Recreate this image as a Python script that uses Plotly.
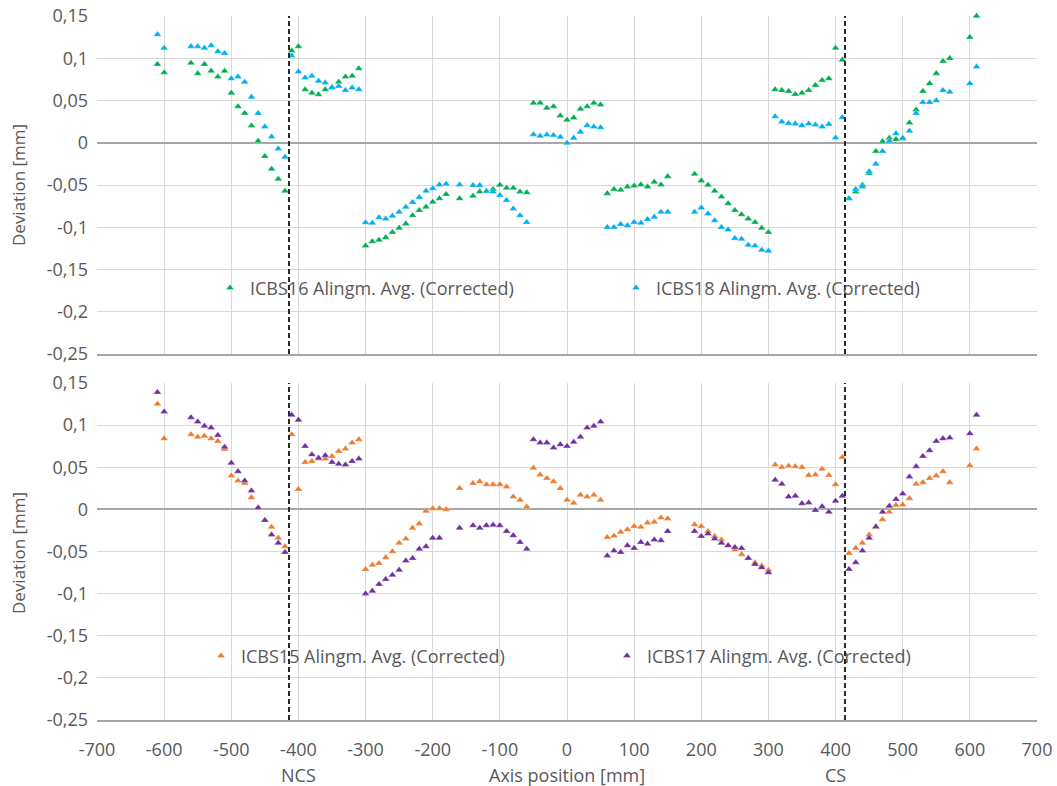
import plotly.graph_objects as go

# ---------------- data ----------------
x_pos = [-610, -600,
         -560, -550, -540, -530, -520, -510, -500, -490, -480, -470, -460, -450, -440, -430, -420,
         -410, -400, -390, -380, -370, -360, -350, -340, -330, -320, -310,
         -300, -290, -280, -270, -260, -250, -240, -230, -220, -210, -200, -190, -180,
         -160, -140, -130, -120, -110, -100, -90, -80, -70, -60,
         -50, -40, -30, -20, -10, 0, 10, 20, 30, 40, 50,
         60, 70, 80, 90, 100, 110, 120, 130, 140, 150,
         190, 200, 210, 220, 230, 240, 250, 260, 270, 280, 290, 300,
         310, 320, 330, 340, 350, 360, 370, 380, 390, 400, 410,
         420, 430, 440, 450, 460, 470, 480, 490, 500, 510, 520, 530, 540, 550, 560, 570,
         600, 610]

icbs16 = [0.093, 0.083,
          0.0945, 0.082, 0.093, 0.085, 0.078, 0.085, 0.059, 0.043, 0.035, 0.020, 0.002, -0.016, -0.031, -0.043, -0.057,
          0.109, 0.114, 0.063, 0.059, 0.057, 0.063, 0.066, 0.072, 0.078, 0.079, 0.088,
          -0.122, -0.117, -0.115, -0.112, -0.106, -0.101, -0.096, -0.086, -0.080, -0.076, -0.070, -0.066, -0.061,
          -0.066, -0.063, -0.058, -0.0575, -0.055, -0.050, -0.0535, -0.0535, -0.058, -0.059,
          0.047, 0.047, 0.041, 0.043, 0.032, 0.027, 0.0295, 0.040, 0.043, 0.047, 0.045,
          -0.060, -0.055, -0.056, -0.052, -0.051, -0.0496, -0.052, -0.0465, -0.0496, -0.040,
          -0.037, -0.045, -0.050, -0.057, -0.064, -0.072, -0.080, -0.085, -0.090, -0.094, -0.101, -0.106,
          0.063, 0.062, 0.061, 0.0575, 0.059, 0.062, 0.068, 0.074, 0.076, 0.112, 0.098,
          -0.066, -0.058, -0.050, -0.036, -0.010, 0.0016, 0.0055, 0.004, 0.0047, 0.0236, 0.039, 0.061, 0.070, 0.082, 0.0965, 0.100,
          0.125, 0.150]

icbs18 = [0.128, 0.112,
          0.114, 0.114, 0.112, 0.115, 0.108, 0.106, 0.076, 0.078, 0.072, 0.054, 0.035, 0.019, 0.007, -0.007, -0.017,
          0.103, 0.084, 0.077, 0.079, 0.073, 0.071, 0.065, 0.067, 0.062, 0.065, 0.063,
          -0.0945, -0.095, -0.0886, -0.090, -0.0866, -0.082, -0.076, -0.0705, -0.0646, -0.057, -0.054, -0.0496, -0.0488,
          -0.0496, -0.0504, -0.0504, -0.0575, -0.058, -0.062, -0.068, -0.078, -0.086, -0.094,
          0.0098, 0.0079, 0.0094, 0.009, 0.0067, -0.0004, 0.0055, 0.0126, 0.0205, 0.0189, 0.0181,
          -0.100, -0.100, -0.0965, -0.098, -0.094, -0.095, -0.0906, -0.088, -0.082, -0.082,
          -0.082, -0.077, -0.084, -0.092, -0.100, -0.103, -0.113, -0.114, -0.121, -0.122, -0.127, -0.128,
          0.031, 0.025, 0.023, 0.0224, 0.0205, 0.0224, 0.0213, 0.019, 0.022, 0.006, 0.030,
          -0.066, -0.055, -0.052, -0.034, -0.025, -0.010, 0.002, 0.011, 0.0055, 0.014, 0.035, 0.048, 0.048, 0.050, 0.062, 0.060,
          0.070, 0.090]

icbs15 = [0.125, 0.084,
          0.089, 0.086, 0.087, 0.084, 0.081, 0.0715, 0.040, 0.034, 0.031, 0.014, 0.002, -0.013, -0.021, -0.034, -0.044,
          0.089, 0.024, 0.056, 0.057, 0.060, 0.060, 0.063, 0.069, 0.072, 0.079, 0.083,
          -0.071, -0.066, -0.064, -0.057, -0.050, -0.040, -0.035, -0.022, -0.017, -0.002, 0.001, 0.001, 0.0,
          0.025, 0.031, 0.033, 0.0295, 0.0295, 0.0295, 0.027, 0.015, 0.011, 0.003,
          0.049, 0.041, 0.037, 0.033, 0.025, 0.011, 0.0075, 0.017, 0.015, 0.017, 0.011,
          -0.033, -0.0315, -0.027, -0.024, -0.020, -0.021, -0.016, -0.015, -0.010, -0.011,
          -0.018, -0.020, -0.026, -0.032, -0.036, -0.0425, -0.048, -0.0535, -0.058, -0.063, -0.067, -0.072,
          0.053, 0.050, 0.0515, 0.051, 0.050, 0.0405, 0.041, 0.048, 0.0405, 0.0295, 0.062,
          -0.052, -0.046, -0.040, -0.030, -0.021, -0.012, -0.003, 0.005, 0.0055, 0.013, 0.030, 0.032, 0.037, 0.040, 0.045, 0.032,
          0.052, 0.072]

icbs17 = [0.139, 0.116,
          0.109, 0.104, 0.099, 0.097, 0.088, 0.074, 0.055, 0.045, 0.034, 0.022, 0.002, -0.013, -0.030, -0.040, -0.051,
          0.112, 0.106, 0.075, 0.065, 0.061, 0.064, 0.056, 0.054, 0.053, 0.057, 0.060,
          -0.100, -0.097, -0.089, -0.083, -0.078, -0.072, -0.061, -0.058, -0.047, -0.044, -0.034, -0.034, None,
          -0.022, -0.019, -0.022, -0.019, -0.0185, -0.019, -0.026, -0.031, -0.039, -0.047,
          0.083, 0.079, 0.079, 0.073, 0.077, 0.075, 0.080, 0.086, 0.097, 0.099, 0.104,
          -0.055, -0.049, -0.051, -0.043, -0.046, -0.039, -0.041, -0.036, -0.037, -0.026,
          -0.026, -0.032, -0.029, -0.035, -0.040, -0.043, -0.045, -0.046, -0.058, -0.065, -0.069, -0.075,
          0.035, 0.030, 0.015, 0.016, 0.007, 0.008, -0.001, 0.0035, -0.003, 0.010, 0.016,
          -0.071, -0.063, -0.049, -0.034, -0.0205, -0.003, 0.004, 0.012, 0.0185, 0.0386, 0.051, 0.063, 0.070, 0.081, 0.084, 0.085,
          0.090, 0.112]

x_ticks = list(range(-700, 701, 100))
x_ticktext = [str(v) for v in x_ticks]
y_ticks = [0.15, 0.1, 0.05, 0, -0.05, -0.1, -0.15, -0.2, -0.25]
y_ticktext = ["0,15", "0,1", "0,05", "0", "-0,05", "-0,1", "-0,15", "-0,2", "-0,25"]
boundary_x = [-414, 414]
section_labels = [(-400, "NCS"), (400, "CS")]
x_title = "Axis position [mm]"
y_title = "Deviation [mm]"

# ---------------- style ----------------
FONT = "Open Sans, Liberation Sans, sans-serif"
FS = 18
TXT = "#595959"
GRID = "#d9d9d9"
AXL = "#a6a6a6"
W, H = 1057, 786
L, R, T, B = 97, 20, 16, 66
PH = H - T - B

fig = go.Figure()

def add(name, y, color, xa, ya, legend):
    fig.add_trace(go.Scatter(
        x=x_pos, y=y, mode="markers", name=name, cliponaxis=False,
        marker=dict(symbol="triangle-up", size=7, color=color,
                    line=dict(color="rgba(255,255,255,0.6)", width=0.5)),
        xaxis=xa, yaxis=ya, legend=legend))

add("ICBS16 Alingm. Avg. (Corrected)", icbs16, "#00B050", "x", "y", "legend")
add("ICBS18 Alingm. Avg. (Corrected)", icbs18, "#00B0F0", "x", "y", "legend")
add("ICBS15 Alingm. Avg. (Corrected)", icbs15, "#ED7D31", "x2", "y2", "legend2")
add("ICBS17 Alingm. Avg. (Corrected)", icbs17, "#7030A0", "x2", "y2", "legend2")

def py(pix):
    return (H - B - pix) / PH

top_dom = [py(354), 1.0]
bot_dom = [0.0, py(383)]

xcommon = dict(range=[-700, 700], tickvals=x_ticks, ticktext=x_ticktext,
               showgrid=True, gridcolor=GRID, gridwidth=1, zeroline=False,
               showline=True, linecolor=AXL, linewidth=2, ticks="", automargin=False,
               tickfont=dict(family=FONT, size=FS, color=TXT))
ycommon = dict(range=[-0.25, 0.15], tickvals=y_ticks, ticktext=y_ticktext,
               showgrid=True, gridcolor=GRID, gridwidth=1,
               zeroline=True, zerolinecolor=AXL, zerolinewidth=2,
               showline=False, ticks="", automargin=False, ticklabelstandoff=8,
               tickfont=dict(family=FONT, size=FS, color=TXT))

fig.update_layout(
    xaxis=dict(**xcommon, domain=[0, 1], anchor="y", showticklabels=False),
    yaxis=dict(**ycommon, domain=top_dom, anchor="x"),
    xaxis2=dict(**xcommon, domain=[0, 1], anchor="y2", showticklabels=True, ticklabelstandoff=12),
    yaxis2=dict(**ycommon, domain=bot_dom, anchor="x2"),
    width=W, height=H,
    margin=dict(l=L, r=R, t=T, b=B, autoexpand=False),
    plot_bgcolor="white", paper_bgcolor="white",
    font=dict(family=FONT, color=TXT),
    legend=dict(orientation="h", x=(210 - L) / 940, y=py(288), xanchor="left", yanchor="middle",
                entrywidth=361, entrywidthmode="pixels", bgcolor="rgba(0,0,0,0)",
                font=dict(family=FONT, size=FS, color=TXT)),
    legend2=dict(orientation="h", x=(201 - L) / 940, y=py(656), xanchor="left", yanchor="middle",
                 entrywidth=361, entrywidthmode="pixels", bgcolor="rgba(0,0,0,0)",
                 font=dict(family=FONT, size=FS, color=TXT)),
)

shapes = []
for bx in boundary_x:
    for xa, ya in [("x", "y"), ("x2", "y2")]:
        shapes.append(dict(type="line", xref=xa, yref=f"{ya} domain",
                           x0=bx, x1=bx, y0=0, y1=1,
                           line=dict(color="#262626", width=2, dash="5px,3px")))
fig.update_layout(shapes=shapes)

for sx, label in section_labels:
    fig.add_annotation(x=sx, y=py(775), xref="x2", yref="paper", text=label, showarrow=False,
                       yanchor="middle", font=dict(family=FONT, size=FS, color=TXT))
fig.add_annotation(x=0, y=py(775), xref="x2", yref="paper", text=x_title, showarrow=False,
                   yanchor="middle", font=dict(family=FONT, size=FS, color=TXT))
for cy in [185, 553]:
    fig.add_annotation(x=(18 - L) / 940, y=py(cy), xref="paper", yref="paper", text=y_title,
                       textangle=-90, showarrow=False, xanchor="center", yanchor="middle",
                       font=dict(family=FONT, size=FS - 1, color=TXT))

fig.write_html("out.html")
